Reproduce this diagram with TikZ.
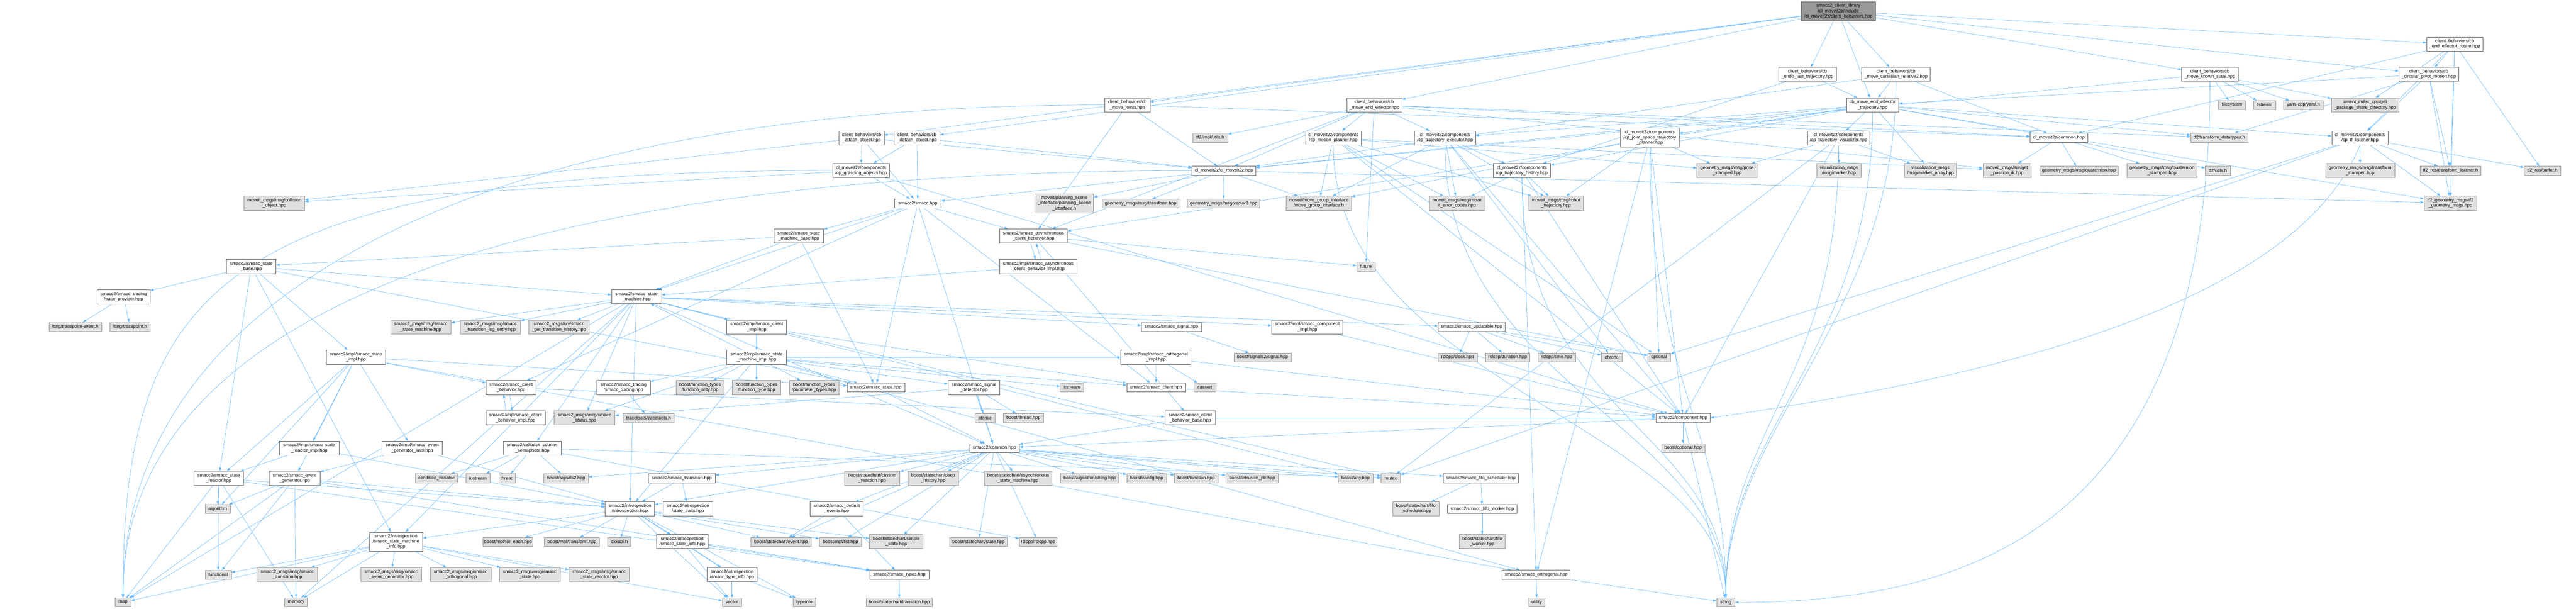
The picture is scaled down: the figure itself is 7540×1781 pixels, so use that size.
\documentclass[tikz,border=0pt]{standalone}
\usepackage{fontspec}
\setmainfont{Liberation Sans}
\usetikzlibrary{arrows.meta}
\pgfdeclarelayer{bg}
\pgfsetlayers{bg,main}
\definecolor{edgeblue}{HTML}{63B8FF}
\definecolor{extfill}{HTML}{E0E0E0}
\definecolor{extdraw}{HTML}{999999}
\definecolor{intdraw}{HTML}{666666}
\definecolor{rootfill}{HTML}{999999}
\tikzset{
  nbase/.style={rectangle, align=center, inner xsep=3pt, inner ysep=2pt,
    font=\fontsize{13.3}{15.5}\selectfont, line width=1pt},
  wn/.style={nbase, draw=intdraw, fill=white},
  gn/.style={nbase, draw=extdraw, fill=extfill},
  rn/.style={nbase, draw=intdraw, fill=rootfill},
  ha/.style={minimum height=26},
  hb/.style={minimum height=41},
  hc/.style={minimum height=56},
  edge/.style={draw=edgeblue, line width=0.9pt, -{Triangle[length=10pt,width=7pt]}},
}
\begin{document}
\begin{tikzpicture}[x=1pt,y=-1pt]
\useasboundingbox (0,0) rectangle (7540,1781);
\begin{pgfonlayer}{bg}
\fill[white] (0,0) rectangle (7540,1781);
\end{pgfonlayer}
% ---------------- top part ----------------
\node[rn,hc,minimum width=218] (root) at (5381,33) {smacc2\_client\_library\\/cl\_moveit2z/include\\/cl\_moveit2z/client\_behaviors.hpp};
\node[wn,hb,minimum width=169] (cbUndo) at (5290.5,217.5) {client\_behaviors/cb\\\_undo\_last\_trajectory.hpp};
\node[wn,hb,minimum width=201] (cbRel2) at (5549.5,217.5) {client\_behaviors/cb\\\_move\_cartesian\_relative2.hpp};
\node[wn,hb,minimum width=161] (cbMoveEE) at (4022.5,307) {client\_behaviors/cb\\\_move\_end\_effector.hpp};
\node[wn,hb,minimum width=152] (cbEETraj) at (5481,307) {cb\_move\_end\_effector\\\_trajectory.hpp};
\node[wn,hb,minimum width=133] (cbJoints) at (3299.5,307) {client\_behaviors/cb\\\_move\_joints.hpp};
\node[wn,hb,minimum width=132] (cbAttach) at (2522,403.5) {client\_behaviors/cb\\\_attach\_object.hpp};
\node[wn,hb,minimum width=134] (cbDetach) at (2684,403.5) {client\_behaviors/cb\\\_detach\_object.hpp};
\node[wn,hb,minimum width=167] (cpGrasp) at (2520.5,499) {cl\_moveit2z/components\\/cp\_grasping\_objects.hpp};
\node[wn,ha,minimum width=187] (clMoveit) at (3582.5,499.5) {cl\_moveit2z/cl\_moveit2z.hpp};
\node[gn,ha,minimum width=103] (tfImpl) at (3542.5,403) {tf2/impl/utils.h};
\node[wn,ha,minimum width=135] (smacc) at (2686.5,595.5) {smacc2/smacc.hpp};
\node[gn,hc,minimum width=172] (planScene) at (3115,595) {moveit/planning\_scene\\\_interface/planning\_scene\\\_interface.h};
\node[gn,ha,minimum width=225] (geoTransform) at (3338.5,595.5) {geometry\_msgs/msg/transform.hpp};
\node[gn,ha,minimum width=213] (geoVector3) at (3581.5,595.5) {geometry\_msgs/msg/vector3.hpp};
\node[gn,hb,minimum width=192] (moveGroup) at (3860,594.5) {moveit/move\_group\_interface\\/move\_group\_interface.h};
\node[wn,hb,minimum width=146] (SMbase) at (2338,691) {smacc2/smacc\_state\\\_machine\_base.hpp};
\node[wn,hb,minimum width=198] (asyncCB) at (3025,691) {smacc2/smacc\_asynchronous\\\_client\_behavior.hpp};
\node[wn,hb,minimum width=226] (asyncCBImpl) at (3039,780) {smacc2/impl/smacc\_asynchronous\\\_client\_behavior\_impl.hpp};
\node[gn,hb,minimum width=178] (collObj) at (803,594.5) {moveit\_msgs/msg/collision\\\_object.hpp};
\node[wn,hb,minimum width=145] (stateBase) at (735.5,780) {smacc2/smacc\_state\\\_base.hpp};
\node[wn,hb,minimum width=155] (traceProv) at (361.5,869) {smacc2/smacc\_tracing\\/trace\_provider.hpp};
\node[wn,hb,minimum width=146] (SM) at (1863,868.5) {smacc2/smacc\_state\\\_machine.hpp};
\node[wn,hb,minimum width=163] (cpMotion) at (3902.5,403.5) {cl\_moveit2z/components\\/cp\_motion\_planner.hpp};
\node[wn,hb,minimum width=179] (cpTrajExec) at (4229.5,403.5) {cl\_moveit2z/components\\/cp\_trajectory\_executor.hpp};
\node[wn,hc,minimum width=172] (cpJoint) at (4829,403) {cl\_moveit2z/components\\/cp\_joint\_space\_trajectory\\\_planner.hpp};
\node[wn,hb,minimum width=183] (cpTrajVis) at (5381.5,403.5) {cl\_moveit2z/components\\/cp\_trajectory\_visualizer.hpp};
\node[wn,hb,minimum width=167] (cpTrajHist) at (4454.5,499) {cl\_moveit2z/components\\/cp\_trajectory\_history.hpp};
\node[gn,hb,minimum width=176] (poseStamped) at (5055,499) {geometry\_msgs/msg/pose\\\_stamped.hpp};
\node[gn,hb,minimum width=131] (vizMarker) at (5382.5,499) {visualization\_msgs\\/msg/marker.hpp};
\node[gn,hb,minimum width=153] (vizMarkerArr) at (5650.5,499) {visualization\_msgs\\/msg/marker\_array.hpp};
\node[gn,hb,minimum width=163] (errCodes) at (4264.5,594.5) {moveit\_msgs/msg/move\\it\_error\_codes.hpp};
\node[gn,hb,minimum width=161] (robotTraj) at (4554.5,594.5) {moveit\_msgs/msg/robot\\\_trajectory.hpp};
\node[gn,ha,minimum width=54] (future) at (3998,780) {future};
\node[wn,hb,minimum width=164] (cbRotate) at (7185,129) {client\_behaviors/cb\\\_end\_effector\_rotate.hpp};
\node[wn,hb,minimum width=165] (cbKnown) at (6468.5,217.5) {client\_behaviors/cb\\\_move\_known\_state.hpp};
\node[wn,hb,minimum width=176] (cbCircular) at (7109,217.5) {client\_behaviors/cb\\\_circular\_pivot\_motion.hpp};
\node[gn,ha,minimum width=80] (filesystem) at (6533,307) {filesystem};
\node[gn,ha,minimum width=64] (fstream) at (6629,307) {fstream};
\node[gn,ha,minimum width=116] (yaml) at (6742,307) {yaml-cpp/yaml.h};
\node[gn,hb,minimum width=197] (ament) at (6922.5,307) {ament\_index\_cpp/get\\\_package\_share\_directory.hpp};
\node[wn,ha,minimum width=169] (mcommon) at (6026.5,403) {cl\_moveit2z/common.hpp};
\node[gn,ha,minimum width=168] (tf2Datatypes) at (6496,403) {tf2/transform\_datatypes.h};
\node[wn,hb,minimum width=165] (cpTF) at (6907.5,403.5) {cl\_moveit2z/components\\/cp\_tf\_listener.hpp};
\node[gn,hb,minimum width=141] (getIK) at (5874.5,499) {moveit\_msgs/srv/get\\\_position\_ik.hpp};
\node[gn,ha,minimum width=230] (quat) at (6085,499.5) {geometry\_msgs/msg/quaternion.hpp};
\node[gn,hb,minimum width=206] (quatStamped) at (6328,499) {geometry\_msgs/msg/quaternion\\\_stamped.hpp};
\node[gn,ha,minimum width=73] (tf2Utils) at (6491.5,499.5) {tf2/utils.h};
\node[gn,hb,minimum width=202] (transStamped) at (6908,499) {geometry\_msgs/msg/transform\\\_stamped.hpp};
\node[gn,ha,minimum width=179] (tfListener) at (7172.5,499.5) {tf2\_ros/transform\_listener.h};
\node[gn,ha,minimum width=107] (tfBuffer) at (7441.5,499.5) {tf2\_ros/buffer.h};
\node[gn,hb,minimum width=155] (tf2Geom) at (7172.5,594.5) {tf2\_geometry\_msgs/tf2\\\_geometry\_msgs.hpp};
% ---------------- bottom part ----------------
\node[gn,ha,minimum width=153] (lttngEvent) at (220.5,957) {lttng/tracepoint-event.h};
\node[gn,ha,minimum width=118] (lttngTp) at (381,957) {lttng/tracepoint.h};
\node[gn,hb,minimum width=177] (msgSM) at (1231.5,957) {smacc2\_msgs/msg/smacc\\\_state\_machine.hpp};
\node[gn,hb,minimum width=177] (msgLog) at (1435.5,957) {smacc2\_msgs/msg/smacc\\\_transition\_log\_entry.hpp};
\node[gn,hb,minimum width=176] (msgHist) at (1636,957) {smacc2\_msgs/srv/smacc\\\_get\_transition\_history.hpp};
\node[wn,hb,minimum width=174] (stateImpl) at (1042,1045.5) {smacc2/impl/smacc\_state\\\_impl.hpp};
\node[wn,hb,minimum width=175] (clientImpl) at (2214.5,957) {smacc2/impl/smacc\_client\\\_impl.hpp};
\node[wn,hb,minimum width=175] (SMimpl) at (2214.5,1045.5) {smacc2/impl/smacc\_state\\\_machine\_impl.hpp};
\node[wn,hb,minimum width=146] (cbBehavior) at (1496,1134.5) {smacc2/smacc\_client\\\_behavior.hpp};
\node[wn,hb,minimum width=174] (cbBehaviorImpl) at (1509,1223) {smacc2/impl/smacc\_client\\\_behavior\_impl.hpp};
\node[wn,hb,minimum width=156] (tracing) at (1825,1134.5) {smacc2/smacc\_tracing\\/smacc\_tracing.hpp};
\node[gn,hb,minimum width=140] (fArity) at (2049,1134.5) {boost/function\_types\\/function\_arity.hpp};
\node[gn,hb,minimum width=141] (fType) at (2214.5,1134.5) {boost/function\_types\\/function\_type.hpp};
\node[gn,hb,minimum width=145] (fParam) at (2382.5,1134.5) {boost/function\_types\\/parameter\_types.hpp};
\node[wn,ha,minimum width=169] (smaccState) at (2563.5,1134) {smacc2/smacc\_state.hpp};
\node[wn,hb,minimum width=151] (sigDetector) at (2850.5,1134.5) {smacc2/smacc\_signal\\\_detector.hpp};
\node[gn,hb,minimum width=179] (msgStatus) at (1710.5,1223) {smacc2\_msgs/msg/smacc\\\_status.hpp};
\node[gn,ha,minimum width=149] (tracetools) at (1898.5,1223) {tracetools/tracetools.h};
\node[gn,ha,minimum width=60] (atomic) at (2883,1223) {atomic};
\node[gn,ha,minimum width=117] (bthread) at (2995.5,1223) {boost/thread.hpp};
\node[wn,hb,minimum width=174] (reactorImpl) at (905,1311.5) {smacc2/impl/smacc\_state\\\_reactor\_impl.hpp};
\node[wn,hb,minimum width=177] (evgenImpl) at (1206.5,1311.5) {smacc2/impl/smacc\_event\\\_generator\_impl.hpp};
\node[wn,hb,minimum width=168] (semaphore) at (1558,1311.5) {smacc2/callback\_counter\\\_semaphore.hpp};
\node[wn,ha,minimum width=145] (common) at (2910.5,1311.5) {smacc2/common.hpp};
\node[wn,hb,minimum width=146] (reactor) at (640,1400) {smacc2/smacc\_state\\\_reactor.hpp};
\node[wn,hb,minimum width=149] (evgen) at (862.5,1400) {smacc2/smacc\_event\\\_generator.hpp};
\node[gn,ha,minimum width=123] (condVar) at (1277.5,1400) {condition\_variable};
\node[gn,ha,minimum width=72] (iostream) at (1399,1400) {iostream};
\node[gn,ha,minimum width=48] (thread) at (1484,1400) {thread};
\node[gn,ha,minimum width=130] (signals2) at (1657,1400) {boost/signals2.hpp};
\node[wn,ha,minimum width=195] (transition) at (1995.5,1400) {smacc2/smacc\_transition.hpp};
\node[gn,hb,minimum width=162] (customReact) at (2553,1400) {boost/statechart/custom\\\_reaction.hpp};
\node[gn,hb,minimum width=147] (deepHist) at (2731.5,1400) {boost/statechart/deep\\\_history.hpp};
\node[gn,hb,minimum width=198] (asyncSM) at (2980,1400) {boost/statechart/asynchronous\\\_state\_machine.hpp};
\node[gn,ha,minimum width=74] (algorithm) at (637,1490) {algorithm};
\node[wn,hb,minimum width=145] (introspection) at (1843.5,1489) {smacc2/introspection\\/introspection.hpp};
\node[wn,hb,minimum width=145] (stateTraits) at (2013.5,1489) {smacc2/introspection\\/state\_traits.hpp};
\node[wn,hb,minimum width=156] (defaultEvents) at (2449,1489) {smacc2/smacc\_default\\\_events.hpp};
\node[wn,hc,minimum width=156] (smInfo) at (1159,1585.5) {smacc2/introspection\\/smacc\_state\_machine\\\_info.hpp};
\node[gn,ha,minimum width=146] (forEach) at (1487,1586) {boost/mpl/for\_each.hpp};
\node[gn,ha,minimum width=162] (mplTransform) at (1674,1586) {boost/mpl/transform.hpp};
\node[gn,ha,minimum width=68] (cxxabi) at (1813,1586) {cxxabi.h};
\node[wn,hb,minimum width=152] (stateInfo) at (1997,1585) {smacc2/introspection\\/smacc\_state\_info.hpp};
\node[gn,ha,minimum width=176] (scEvent) at (2286,1586) {boost/statechart/event.hpp};
\node[gn,ha,minimum width=124] (mplList) at (2460,1586) {boost/mpl/list.hpp};
\node[gn,hb,minimum width=157] (simpleState) at (2623.5,1585) {boost/statechart/simple\\\_state.hpp};
\node[gn,ha,minimum width=170] (scState) at (2864,1586) {boost/statechart/state.hpp};
\node[gn,ha,minimum width=109] (rclcpp) at (3038.5,1586) {rclcpp/rclcpp.hpp};
\node[gn,ha,minimum width=77] (functional) at (638.5,1682.5) {functional};
\node[gn,hb,minimum width=178] (msgTrans) at (841,1681.5) {smacc2\_msgs/msg/smacc\\\_transition.hpp};
\node[gn,hb,minimum width=178] (msgEvgen) at (1145,1681.5) {smacc2\_msgs/msg/smacc\\\_event\_generator.hpp};
\node[gn,hb,minimum width=178] (msgOrth) at (1348,1681.5) {smacc2\_msgs/msg/smacc\\\_orthogonal.hpp};
\node[gn,hb,minimum width=179] (msgState) at (1550.5,1681.5) {smacc2\_msgs/msg/smacc\\\_state.hpp};
\node[gn,hb,minimum width=177] (msgReactor) at (1753.5,1681.5) {smacc2\_msgs/msg/smacc\\\_state\_reactor.hpp};
\node[wn,hb,minimum width=147] (typeInfo) at (2142.5,1681.5) {smacc2/introspection\\/smacc\_type\_info.hpp};
\node[wn,ha,minimum width=173] (types) at (2632.5,1682) {smacc2/smacc\_types.hpp};
\node[gn,ha,minimum width=46] (map) at (360,1763) {map};
\node[gn,ha,minimum width=67] (memory) at (866.5,1763) {memory};
\node[gn,ha,minimum width=57] (vector) at (2142.5,1763) {vector};
\node[gn,ha,minimum width=67] (typeinfo) at (2354.5,1763) {typeinfo};
\node[gn,ha,minimum width=194] (scTransition) at (2632,1763) {boost/statechart/transition.hpp};
\node[wn,ha,minimum width=176] (signal) at (3429,957) {smacc2/smacc\_signal.hpp};
\node[wn,hb,minimum width=209] (compImpl) at (3826.5,957) {smacc2/impl/smacc\_component\\\_impl.hpp};
\node[wn,ha,minimum width=197] (updatable) at (4307.5,957) {smacc2/smacc\_updatable.hpp};
\node[wn,hb,minimum width=205] (orthImpl) at (3383.5,1045.5) {smacc2/impl/smacc\_orthogonal\\\_impl.hpp};
\node[gn,ha,minimum width=167] (signal2sig) at (3695.5,1046) {boost/signals2/signal.hpp};
\node[gn,ha,minimum width=115] (clock) at (4266.5,1046) {rclcpp/clock.hpp};
\node[gn,ha,minimum width=130] (duration) at (4413,1046) {rclcpp/duration.hpp};
\node[gn,ha,minimum width=110] (rtime) at (4557,1046) {rclcpp/time.hpp};
\node[gn,ha,minimum width=61] (chrono) at (4717.5,1046) {chrono};
\node[gn,ha,minimum width=66] (optional) at (4856,1046) {optional};
\node[gn,ha,minimum width=69] (sstream) at (3137.5,1134) {sstream};
\node[wn,ha,minimum width=172] (client) at (3384,1134) {smacc2/smacc\_client.hpp};
\node[gn,ha,minimum width=65] (cassert) at (3526.5,1134) {cassert};
\node[wn,hb,minimum width=148] (cbBase) at (3484,1223) {smacc2/smacc\_client\\\_behavior\_base.hpp};
\node[wn,ha,minimum width=159] (component) at (4926.5,1223) {smacc2/component.hpp};
\node[gn,ha,minimum width=127] (boptional) at (4926.5,1311.5) {boost/optional.hpp};
\node[gn,ha,minimum width=171] (algString) at (3189.5,1400) {boost/algorithm/string.hpp};
\node[gn,ha,minimum width=116] (bconfig) at (3356,1400) {boost/config.hpp};
\node[gn,ha,minimum width=128] (bfunction) at (3501,1400) {boost/function.hpp};
\node[gn,ha,minimum width=154] (intrusive) at (3665,1400) {boost/intrusive\_ptr.hpp};
\node[gn,ha,minimum width=102] (bany) at (3968,1400) {boost/any.hpp};
\node[gn,ha,minimum width=57] (mutex) at (4070.5,1400) {mutex};
\node[wn,ha,minimum width=221] (fifoSched) at (4334.5,1400) {smacc2/smacc\_fifo\_scheduler.hpp};
\node[gn,hb,minimum width=136] (scFifoSched) at (4144,1489) {boost/statechart/fifo\\\_scheduler.hpp};
\node[wn,ha,minimum width=203] (fifoWorker) at (4338.5,1490) {smacc2/smacc\_fifo\_worker.hpp};
\node[gn,hb,minimum width=135] (scFifoWorker) at (4338.5,1585) {boost/statechart/fifo\\\_worker.hpp};
\node[wn,ha,minimum width=199] (orthogonal) at (4496.5,1682) {smacc2/smacc\_orthogonal.hpp};
\node[gn,ha,minimum width=48] (utility) at (4498,1763) {utility};
\node[gn,ha,minimum width=53] (string) at (5051.5,1763) {string};
% ---------------- connectors ----------------
\begin{pgfonlayer}{bg}
\foreach \s/\t in {
 root/cbAttach, root/cbDetach, root/cbJoints, root/cbMoveEE, root/cbUndo, root/cbRel2, root/cbEETraj, root/cbKnown, root/cbCircular, root/cbRotate,
 cbRotate/cbCircular, cbRotate/mcommon, cbRotate/ament, cbRotate/cpTF, cbRotate/tfListener, cbRotate/tfBuffer, cbRotate/tf2Geom,
 cbCircular/cbEETraj, cbCircular/cpTF, cbCircular/tfListener, cbCircular/tf2Geom, cbCircular/tf2Datatypes,
 cbKnown/filesystem, cbKnown/fstream, cbKnown/yaml, cbKnown/ament, cbKnown/clMoveit,
 cbUndo/cbEETraj, cbUndo/cpTrajHist,
 cbRel2/cbEETraj, cbRel2/clMoveit, cbRel2/mcommon,
 cbEETraj/cpTrajVis, cbEETraj/vizMarkerArr, cbEETraj/cpJoint, cbEETraj/cpTrajExec, cbEETraj/cpTrajHist, cbEETraj/clMoveit, cbEETraj/cpTF, cbEETraj/tf2Geom, cbEETraj/tf2Datatypes, cbEETraj/mcommon, cbEETraj/asyncCB,
 cbMoveEE/cpMotion, cbMoveEE/cpTrajExec, cbMoveEE/future, cbMoveEE/clMoveit, cbMoveEE/tfImpl, cbMoveEE/tf2Datatypes, cbMoveEE/mcommon, cbMoveEE/asyncCB, cbMoveEE/getIK,
 cbJoints/clMoveit, cbJoints/asyncCB, cbJoints/mcommon,
 cbAttach/cpGrasp, cbAttach/smacc, cbAttach/clMoveit, cbAttach/collObj,
 cbDetach/cpGrasp, cbDetach/smacc, cbDetach/clMoveit,
 cpGrasp/collObj, cpGrasp/smacc, cpGrasp/component,
 clMoveit/planScene, clMoveit/geoTransform, clMoveit/geoVector3, clMoveit/moveGroup, clMoveit/smacc, clMoveit/tf2Geom,
 cpMotion/moveGroup, cpMotion/errCodes, cpMotion/robotTraj, cpMotion/poseStamped, cpMotion/getIK, cpMotion/component, cpMotion/optional,
 cpTrajExec/cpTrajHist, cpTrajExec/errCodes, cpTrajExec/robotTraj, cpTrajExec/moveGroup, cpTrajExec/component, cpTrajExec/chrono,
 cpJoint/poseStamped, cpJoint/robotTraj, cpJoint/component, cpJoint/optional, cpJoint/orthogonal, cpJoint/moveGroup,
 cpTrajVis/poseStamped, cpTrajVis/vizMarker, cpTrajVis/vizMarkerArr, cpTrajVis/component, cpTrajVis/mutex,
 cpTrajHist/errCodes, cpTrajHist/robotTraj, cpTrajHist/component, cpTrajHist/orthogonal,
 mcommon/getIK, mcommon/quat, mcommon/quatStamped, mcommon/tf2Utils,
 cpTF/transStamped, cpTF/tfListener, cpTF/tfBuffer, cpTF/tf2Geom, cpTF/optional, cpTF/mutex,
 SMbase/SM, SMbase/stateBase, SMbase/smaccState,
 smacc/SMbase, smacc/asyncCB, smacc/SM, smacc/common, smacc/smaccState, smacc/client, smacc/cbBehavior,
 asyncCB/future, asyncCB/cbBase, asyncCB/optional,
 asyncCBImpl/SM,
 stateBase/SM, stateBase/traceProv, stateBase/stateImpl, stateBase/reactor, stateBase/smInfo, stateBase/smaccState,
 traceProv/lttngEvent, traceProv/lttngTp,
 SM/msgHist, SM/msgLog, SM/msgSM, SM/msgStatus, SM/clientImpl, SM/semaphore, SM/introspection, SM/smInfo, SM/signal, SM/updatable, SM/compImpl, SM/bany, SM/mutex, SM/map, SM/memory, SM/common,
 SMimpl/SM, SMimpl/tracing, SMimpl/fArity, SMimpl/fType, SMimpl/fParam, SMimpl/smaccState, SMimpl/sigDetector, SMimpl/msgStatus, SMimpl/introspection, SMimpl/sstream, SMimpl/orthogonal, SMimpl/client, SMimpl/orthImpl,
 clientImpl/SMimpl, clientImpl/client,
 tracing/tracetools,
 sigDetector/atomic, sigDetector/bthread, sigDetector/common, sigDetector/msgStatus,
 smaccState/common,
 semaphore/condVar, semaphore/iostream, semaphore/thread, semaphore/signals2, semaphore/mutex, semaphore/rclcpp,
 cbBehavior/cbBase,
 stateImpl/cbBehavior, stateImpl/reactorImpl, stateImpl/evgenImpl, stateImpl/reactor, stateImpl/evgen, stateImpl/smaccState, stateImpl/orthogonal, stateImpl/algorithm,
 reactorImpl/reactor, reactorImpl/introspection,
 evgenImpl/evgen, evgenImpl/introspection,
 reactor/algorithm, reactor/functional, reactor/map, reactor/memory, reactor/introspection, reactor/types,
 evgen/algorithm, evgen/functional, evgen/map, evgen/memory, evgen/introspection, evgen/types,
 smInfo/functional, smInfo/msgTrans, smInfo/msgEvgen, smInfo/msgOrth, smInfo/msgState, smInfo/msgReactor, smInfo/map, smInfo/memory, smInfo/vector,
 introspection/forEach, introspection/mplTransform, introspection/cxxabi, introspection/stateInfo, introspection/scEvent, introspection/mplList, introspection/simpleState, introspection/typeInfo, introspection/vector, introspection/typeinfo, introspection/smInfo,
 transition/introspection, transition/stateTraits,
 defaultEvents/scEvent, defaultEvents/types,
 common/customReact, common/deepHist, common/asyncSM, common/scEvent, common/scState, common/rclcpp, common/defaultEvents, common/introspection, common/transition, common/signals2, common/simpleState, common/mplList, common/algString, common/bconfig, common/bfunction, common/intrusive, common/bany, common/mutex, common/fifoSched,
 fifoSched/scFifoSched, fifoSched/fifoWorker, fifoWorker/scFifoWorker,
 orthogonal/utility, types/scTransition,
 typeInfo/vector, typeInfo/typeinfo,
 stateInfo/typeInfo, stateInfo/types, stateInfo/vector,
 signal/signal2sig, compImpl/component,
 updatable/clock, updatable/duration, updatable/rtime, updatable/chrono, updatable/optional,
 orthImpl/client, orthImpl/cassert, orthImpl/component,
 client/component, cbBase/common, cbBase/component,
 component/boptional, component/common, orthogonal/string, component/string}
 {\draw[edge] (\s) -- (\t);}
% paired connectors in both directions
\draw[edge] ([xshift=-8pt]asyncCB.south) -- ([xshift=-8pt]asyncCBImpl.north);
\draw[edge] ([xshift=8pt]asyncCBImpl.north) -- ([xshift=8pt]asyncCB.south);
\draw[edge] ([xshift=-4pt]cbBehavior.south) -- ([xshift=-10pt]cbBehaviorImpl.north);
\draw[edge] ([xshift=-28pt]cbBehaviorImpl.north) -- ([xshift=-22pt]cbBehavior.south);
% long curved connectors
\foreach \s in {cbJoints, clMoveit, cpGrasp}
 {\draw[edge] (\s.west) .. controls +(-1800,0) and +(0,-900) .. (map.north);}
\foreach \s in {cpMotion, cpTrajExec, cpJoint, cpTrajVis, cpTrajHist, cbEETraj, cbRel2}
 {\draw[edge] (\s.south) .. controls +(0,700) and +(0,-500) .. (string.north);}
\draw[edge] (cbKnown.south) .. controls +(0,1300) and +(700,0) .. (string.east);
\draw[edge] (cpTF.south) .. controls +(-200,500) and +(700,-100) .. (component.east);
\end{pgfonlayer}
\end{tikzpicture}
\end{document}
